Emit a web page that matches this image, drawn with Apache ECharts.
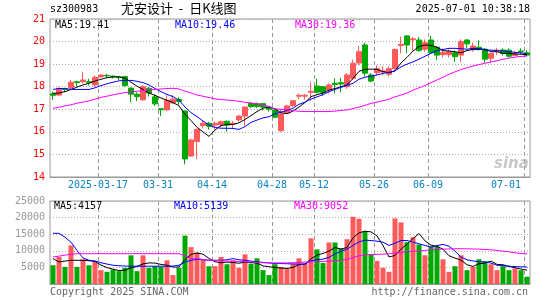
<!DOCTYPE html>
<html>
<head>
<meta charset="utf-8">
<script src="https://cdn.jsdelivr.net/npm/echarts@6/dist/echarts.min.js"></script>
<style>
html, body { margin: 0; padding: 0; background: #fff; }
#main { width: 545px; height: 300px; }
</style>
</head>
<body>
<div id="main"></div>
<script>
// 交易日
var dates = [
  '2025-03-05','2025-03-06','2025-03-07','2025-03-10','2025-03-11','2025-03-12','2025-03-13','2025-03-14',
  '2025-03-17','2025-03-18','2025-03-19','2025-03-20','2025-03-21','2025-03-24','2025-03-25','2025-03-26',
  '2025-03-27','2025-03-28','2025-03-31','2025-04-01','2025-04-02','2025-04-03','2025-04-07','2025-04-08',
  '2025-04-09','2025-04-10','2025-04-11','2025-04-14','2025-04-15','2025-04-16','2025-04-17','2025-04-18',
  '2025-04-21','2025-04-22','2025-04-23','2025-04-24','2025-04-25','2025-04-28','2025-04-29','2025-04-30',
  '2025-05-06','2025-05-07','2025-05-08','2025-05-09','2025-05-12','2025-05-13','2025-05-14','2025-05-15',
  '2025-05-16','2025-05-19','2025-05-20','2025-05-21','2025-05-22','2025-05-23','2025-05-26','2025-05-27',
  '2025-05-28','2025-05-29','2025-05-30','2025-06-03','2025-06-04','2025-06-05','2025-06-06','2025-06-09',
  '2025-06-10','2025-06-11','2025-06-12','2025-06-13','2025-06-16','2025-06-17','2025-06-18','2025-06-19',
  '2025-06-20','2025-06-23','2025-06-24','2025-06-25','2025-06-26','2025-06-27','2025-06-30','2025-07-01'
];
// 显示刻度的位置
var tickIndex = [8, 18, 27, 37, 44, 54, 63, 79];

// [开, 收, 低, 高]
var ohlc = [
  [17.68,17.62,17.42,17.78],[17.63,17.93,17.60,17.97],[17.92,17.88,17.76,17.96],[17.95,18.20,17.85,18.30],
  [18.22,18.18,18.00,18.26],[18.22,18.30,18.15,18.65],[18.22,18.19,18.05,18.35],[18.08,18.42,18.00,18.50],
  [18.44,18.52,18.40,18.55],[18.50,18.48,18.40,18.58],[18.47,18.44,18.36,18.50],[18.43,18.40,18.30,18.46],
  [18.45,18.05,18.00,18.48],[17.94,17.67,17.32,17.96],[17.67,17.56,17.36,17.75],[17.42,18.00,17.38,18.08],
  [17.93,17.72,17.56,18.00],[17.55,17.24,17.15,17.65],[17.02,16.98,16.70,17.06],[16.97,17.40,16.95,17.63],
  [17.28,17.45,17.25,17.63],[17.43,17.35,17.20,17.55],[16.92,14.80,14.56,16.95],[14.93,15.64,14.90,15.70],
  [15.57,16.10,14.80,16.15],[16.28,16.38,16.15,16.50],[16.38,16.25,16.10,16.45],[16.30,16.38,16.10,16.45],
  [16.32,16.45,16.20,16.50],[16.47,16.30,16.00,16.50],[16.35,16.38,16.15,16.48],[16.53,16.70,16.45,16.75],
  [16.70,17.10,16.25,17.12],[17.27,17.12,17.05,17.32],[17.25,17.12,17.05,17.30],[17.25,17.10,16.95,17.28],
  [17.10,17.00,16.90,17.15],[16.97,16.65,16.60,17.05],[16.05,16.80,16.00,17.00],[16.85,17.15,16.80,17.20],
  [17.17,17.38,17.10,17.40],[17.58,17.62,17.45,17.70],[17.58,17.62,17.42,17.68],[17.75,17.80,17.38,18.22],
  [18.03,17.76,17.70,18.35],[18.00,17.75,17.60,18.03],[17.85,18.08,17.70,18.15],[18.15,18.10,17.70,18.37],
  [18.18,18.12,17.75,18.40],[18.00,18.52,17.90,18.60],[18.37,19.04,18.30,19.20],[19.05,19.55,18.95,19.80],
  [19.85,18.60,18.45,19.95],[18.52,18.25,18.20,18.60],[18.62,18.80,18.50,18.95],[18.65,18.70,18.50,18.90],
  [18.55,18.80,18.45,18.90],[18.80,19.65,18.75,19.70],[19.82,19.88,19.48,20.22],[20.25,19.85,19.48,20.28],
  [20.08,20.12,19.60,20.20],[20.07,19.60,19.55,20.20],[19.66,19.95,19.55,20.10],[20.07,19.50,19.45,20.25],
  [19.75,19.40,19.18,19.80],[19.42,19.52,19.30,19.70],[19.42,19.55,19.30,19.65],[19.50,19.33,19.10,19.60],
  [19.40,20.00,19.10,20.10],[20.07,19.90,19.70,20.10],[19.63,19.80,19.55,19.95],[19.75,19.65,19.60,20.05],
  [19.66,19.22,19.06,19.70],[19.26,19.48,19.05,19.50],[19.58,19.62,19.40,19.72],[19.63,19.47,19.38,19.70],
  [19.62,19.35,19.30,19.70],[19.38,19.46,19.35,19.58],[19.58,19.55,19.45,19.70],[19.50,19.40,19.36,19.62]
];

var ma5 = [
  17.71,17.72,17.78,17.88,17.98,18.08,18.15,18.25,18.33,18.40,18.43,18.44,18.38,18.20,18.02,17.88,
  17.72,17.62,17.50,17.40,17.30,17.15,16.78,16.50,16.20,16.00,15.80,16.08,16.28,16.32,16.33,16.40,
  16.55,16.72,16.90,17.05,17.10,17.02,16.85,16.80,16.92,17.10,17.30,17.56,17.65,17.72,17.85,17.92,
  18.00,18.08,18.37,18.68,18.77,18.78,18.77,18.67,18.62,18.70,19.05,19.30,19.58,19.78,19.85,19.83,
  19.75,19.60,19.58,19.55,19.50,19.60,19.66,19.66,19.66,19.55,19.55,19.48,19.48,19.45,19.44,19.41
];
var ma10 = [
  17.88,17.92,17.92,17.88,17.88,17.88,17.88,17.95,18.05,18.13,18.20,18.26,18.28,18.28,18.24,18.18,
  18.08,17.92,17.78,17.66,17.56,17.40,17.10,16.85,16.68,16.48,16.30,16.20,16.16,16.16,16.15,16.11,
  16.23,16.42,16.52,16.62,16.67,16.80,16.88,16.94,17.05,17.22,17.32,17.45,17.55,17.65,17.78,17.88,
  17.97,18.06,18.15,18.33,18.42,18.47,18.52,18.59,18.64,18.70,18.88,19.00,19.10,19.22,19.35,19.48,
  19.60,19.65,19.70,19.70,19.68,19.66,19.70,19.68,19.63,19.62,19.60,19.58,19.55,19.52,19.50,19.46
];
var ma30 = [
  17.04,17.09,17.15,17.20,17.27,17.32,17.37,17.45,17.53,17.58,17.64,17.69,17.74,17.77,17.80,17.83,
  17.86,17.88,17.90,17.92,17.93,17.90,17.80,17.72,17.63,17.58,17.52,17.46,17.43,17.41,17.39,17.35,
  17.31,17.27,17.24,17.20,17.12,17.02,17.00,16.97,16.94,16.91,16.90,16.90,16.90,16.90,16.90,16.92,
  16.95,16.97,17.03,17.10,17.17,17.26,17.32,17.38,17.45,17.55,17.63,17.72,17.85,17.95,18.05,18.18,
  18.30,18.42,18.55,18.66,18.76,18.84,18.92,18.98,19.04,19.10,19.15,19.22,19.27,19.31,19.34,19.36
];

// 成交量
var volumes = [
  5650,8130,5150,11600,5150,7440,5650,6650,4170,3670,4360,3870,4860,8630,3870,8630,
  4860,5360,5160,7140,2680,4860,14580,11100,9500,7440,5360,5360,8130,5950,7140,4860,
  8930,6150,7740,4170,2680,5950,5160,4660,6150,7740,6150,13780,10420,6350,12500,12500,
  10710,13490,20240,19640,15870,8900,6940,4860,3670,19740,18550,12600,14090,11900,8630,11310,
  11310,7440,3670,5360,8630,4170,5160,7440,6850,5950,4170,5360,4170,4700,4170,2200
];
var volMa5 = [
  7650,6640,6900,7140,7140,7140,7000,6800,5700,4950,4460,4060,4160,4860,5300,6050,
  6350,6300,5900,5650,5100,5100,7400,8900,9300,9000,7700,6700,6400,6600,6500,6250,
  6600,6500,6300,5450,5200,5000,4800,4700,5000,5850,6000,7600,8700,9200,9900,11000,
  10500,11000,13900,15400,15900,15700,14500,11600,8130,8600,10500,12000,13700,15200,13000,11700,
  11300,10500,8500,7800,7200,5800,5300,6100,6300,6900,5900,5800,5300,4900,4500,4157
];
var volMa10 = [
  15270,15270,14090,12600,10120,7830,7140,6950,6400,6000,5650,5500,5400,5360,5360,5360,
  5360,5360,5360,5360,5400,5650,6650,7140,7440,7300,7140,7140,7140,7300,7640,7300,
  7140,6900,6650,6500,6350,6150,6150,6100,6050,5950,6000,7000,7300,7500,8000,9100,
  9800,10500,11600,12700,13200,13090,12900,12600,11600,12300,13090,13090,12600,12100,11600,11100,
  11600,11900,11400,9920,8130,7300,6940,6700,6650,6300,5650,5500,5360,5250,5150,5139
];
var volMa30 = [
  8130,8400,8700,8950,9130,9130,9130,9130,9130,9130,9130,9130,9130,9130,9130,9130,
  9130,9130,9130,9130,9130,9130,8500,7640,7640,7400,7200,7100,7000,6900,6850,6800,
  6700,6650,6500,6400,6350,6350,6350,6350,6400,6500,6600,6650,6700,6800,6900,7000,
  7100,7400,8000,8500,8830,8900,8930,9000,9100,9320,9500,9700,9850,10000,10120,10300,
  10400,10500,10550,10620,10620,10600,10550,10500,10400,10300,10120,9900,9700,9400,9200,9052
];

var UP = '#ff5a5a', DOWN = '#00a800';
var MONO = "'DejaVu Sans Mono', monospace";

function showTick(index) {
  return tickIndex.indexOf(index) >= 0;
}

function volumeBars() {
  var arr = [];
  for (var i = 0; i < volumes.length; i++) {
    var up = ohlc[i][1] >= ohlc[i][0];
    arr.push({ value: volumes[i], itemStyle: { color: up ? UP : DOWN } });
  }
  return arr;
}

function maLine(data, color, xi) {
  return {
    type: 'line', data: data, xAxisIndex: xi, yAxisIndex: xi,
    showSymbol: false, symbol: 'none', silent: true, z: 3,
    lineStyle: { color: color, width: 1 }
  };
}

// 竖直虚线：用 custom 系列画在刻度日期的左边界
function dashSeries(xi) {
  var data = [];
  for (var i = 0; i < tickIndex.length; i++) data.push([dates[tickIndex[i]]]);
  return {
    type: 'custom', xAxisIndex: xi, yAxisIndex: xi, silent: true, z: 1,
    encode: { x: 0 },
    data: data,
    renderItem: function (params, api) {
      var idx = api.value(0);
      var half = api.size([1, 0])[0] / 2;
      var x = Math.round(api.coord([idx, 0])[0] - half) + 0.5;
      var rect = params.coordSys;
      return {
        type: 'line',
        shape: { x1: x, y1: rect.y, x2: x, y2: rect.y + rect.height },
        style: { stroke: '#999', lineWidth: 1, lineDash: [4, 3] }
      };
    }
  };
}

function xAxisOf(gi) {
  return {
    type: 'category', gridIndex: gi, data: dates, boundaryGap: true,
    axisLabel: {
      show: gi === 0, interval: function (i) { return showTick(i); },
      formatter: function (v, i) { return i === 8 ? v : v.slice(5); },
      color: '#0a84c8', fontSize: 10, fontFamily: MONO, margin: 3,
      padding: [0, 6, 0, 0], alignMaxLabel: 'right'
    },
    axisTick: { show: false },
    axisLine: { lineStyle: { color: '#999' } },
    splitLine: { show: false }
  };
}

function txt(x, y, s, color, size, font) {
  return {
    type: 'text', left: x, top: y, z: 10,
    style: { text: s, fill: color, fontSize: size || 10, fontFamily: font || MONO }
  };
}

var option = {
  animation: false,
  grid: [
    { left: 50, top: 19, width: 480, height: 158, show: true, borderColor: '#999', borderWidth: 1 },
    { left: 50, top: 201, width: 480, height: 83, show: true, borderColor: '#999', borderWidth: 1 }
  ],
  xAxis: [xAxisOf(0), xAxisOf(1)],
  yAxis: [
    {
      type: 'value', gridIndex: 0, min: 14, max: 21, interval: 1,
      axisLine: { show: false }, axisTick: { show: false },
      axisLabel: { color: '#ff0000', fontSize: 10, fontFamily: MONO, margin: 5 },
      splitLine: { lineStyle: { color: '#aaa', type: [1, 2] } }
    },
    {
      type: 'value', gridIndex: 1, min: 0, max: 25000, interval: 5000,
      axisLine: { show: false }, axisTick: { show: false },
      axisLabel: {
        color: '#999', fontSize: 10, fontFamily: MONO, margin: 5,
        formatter: function (v) { return v === 0 ? '' : v; }
      },
      splitLine: { lineStyle: { color: '#aaa', type: [1, 2] } }
    }
  ],
  series: [
    dashSeries(0),
    {
      type: 'candlestick', data: ohlc, xAxisIndex: 0, yAxisIndex: 0, barWidth: 5,
      itemStyle: { color: UP, color0: DOWN, borderColor: UP, borderColor0: DOWN, borderWidth: 1 }
    },
    maLine(ma5, '#000000', 0),
    maLine(ma10, '#0000ff', 0),
    maLine(ma30, '#ff00ff', 0),
    dashSeries(1),
    { type: 'bar', data: volumeBars(), xAxisIndex: 1, yAxisIndex: 1, barWidth: 5 },
    maLine(volMa5, '#000000', 1),
    maLine(volMa10, '#0000ff', 1),
    maLine(volMa30, '#ff00ff', 1)
  ],
  graphic: [
    txt(50, 4, 'sz300983', '#000'),
    txt(121, 2, '尤安设计  -  日K线图', '#000', 13, "'Noto Sans CJK SC', sans-serif"),
    { type: 'text', right: 15, top: 4, style: { text: '2025-07-01 10:38:18', fill: '#000', fontSize: 10, fontFamily: MONO } },
    txt(55, 20, 'MA5:19.41', '#000'),
    txt(175, 20, 'MA10:19.46', '#0000ff'),
    txt(295, 20, 'MA30:19.36', '#ff00ff'),
    txt(54, 201, 'MA5:4157', '#000'),
    txt(174, 201, 'MA10:5139', '#0000ff'),
    txt(294, 201, 'MA30:9052', '#ff00ff'),
    txt(50, 287, 'Copyright 2025 SINA.COM', '#666'),
    { type: 'text', right: 17, top: 287, style: { text: 'http://finance.sina.com.cn', fill: '#666', fontSize: 10, fontFamily: MONO } },
    { type: 'text', left: 494, top: 157, style: { text: 'sina', fill: '#c8c8c8', fontSize: 15, fontWeight: 'bold', fontStyle: 'italic', fontFamily: 'DejaVu Sans' } }
  ]
};

var myChart = echarts.init(document.getElementById('main'));
myChart.setOption(option);
</script>
</body>
</html>
